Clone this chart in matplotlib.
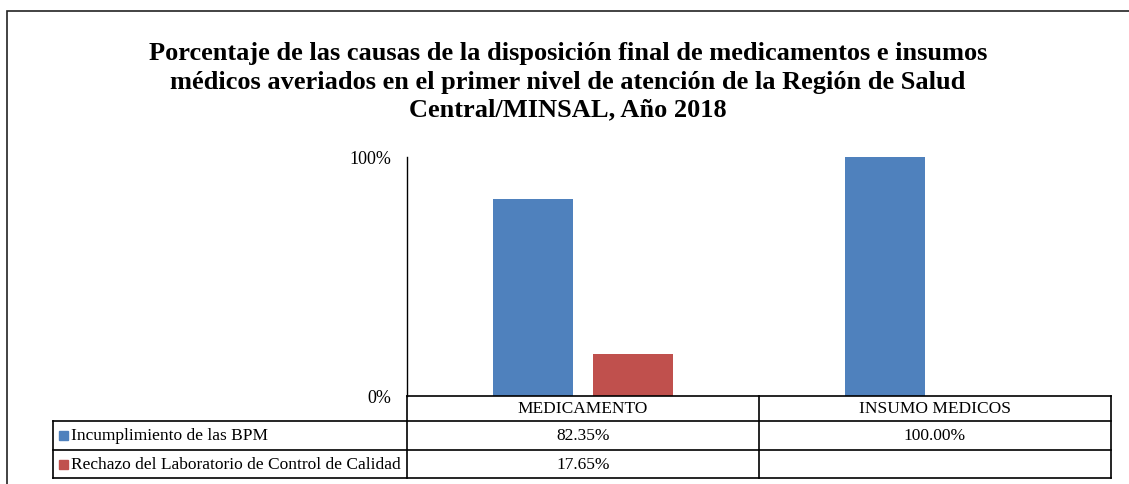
import matplotlib
matplotlib.use("Agg")
import matplotlib.pyplot as plt
import matplotlib.transforms as mtransforms
from matplotlib.patches import Rectangle
import numpy as np

categories = ["MEDICAMENTO", "INSUMO MEDICOS"]
series_names = ["Incumplimiento de las BPM",
                "Rechazo del Laboratorio de Control de Calidad"]
bpm = [82.35, 100.00]
rechazo = [17.65, None]
series_colors = ["#4F81BD", "#C0504D"]

title = ("Porcentaje de las causas de la disposición final de medicamentos e insumos\n"
         "médicos averiados en el primer nivel de atención de la Región de Salud\n"
         "Central/MINSAL, Año 2018")

plt.rcParams['font.family'] = ['Liberation Serif', 'DejaVu Serif']

W, H = 1129, 485
fig = plt.figure(figsize=(W / 100, H / 100), dpi=100)
fig.patch.set_facecolor("white")

# outer chart border (runs off the right and bottom edge like the source)
fig.patches.append(Rectangle((7 / W, -0.05), 1.2, 1 - 12 / H + 0.05,
                             transform=fig.transFigure, fill=False,
                             edgecolor="#222222", linewidth=1.2))

fig.text(0.503, 1 - 82 / H, title, ha="center", va="center",
         fontsize=19, fontweight="bold", linespacing=1.28)

ax = fig.add_axes([407 / W, 1 - 397 / H, (1111 - 407) / W, (397 - 158) / H])
x = np.arange(len(categories))
width = 0.225
off = 0.142
ax.bar(x - off, [v / 100 for v in bpm], width, color=series_colors[0])
r_vals = [v / 100 if v is not None else 0 for v in rechazo]
ax.bar(x + off, r_vals, width, color=series_colors[1])

ax.set_xlim(-0.5, len(categories) - 0.5)
ax.set_ylim(0, 1)
ax.set_yticks([0, 1])
ax.set_yticklabels(["0%", "100%"], fontsize=13)
ax.tick_params(axis="y", length=0, pad=11)
ax.set_xticks([])
for s in ["top", "right", "bottom"]:
    ax.spines[s].set_visible(False)
ax.spines["left"].set_linewidth(1.0)

# data table under the plot
trans = mtransforms.blended_transform_factory(ax.transData, fig.transFigure)
fx = lambda px: px / W
fy = lambda py: 1 - py / H
lw = 1.2
row_y = [397, 422, 451, 479]
x_left = -0.5 - (407 - 53) / 352
edges = [-0.5, 0.5, 1.5]

line_kw = dict(transform=trans, color="black", linewidth=lw, clip_on=False)
ax.plot([edges[0], edges[-1]], [fy(row_y[0])] * 2, **line_kw)
for yy in row_y[1:]:
    ax.plot([x_left, edges[-1]], [fy(yy)] * 2, **line_kw)
for e in edges:
    ax.plot([e, e], [fy(row_y[0]), fy(row_y[-1])], **line_kw)
ax.plot([x_left, x_left], [fy(row_y[1]), fy(row_y[-1])], **line_kw)

fs = 12.5
for i, c in enumerate(categories):
    ax.text(x[i], fy((row_y[0] + row_y[1]) / 2), c, transform=trans,
            ha="center", va="center", fontsize=fs)

rows = [bpm, rechazo]
for r, (name, vals, col) in enumerate(zip(series_names, rows, series_colors)):
    yc = fy((row_y[r + 1] + row_y[r + 2]) / 2)
    fig.patches.append(Rectangle((fx(59), yc - 4.5 / H), 9 / W, 9 / H,
                                 transform=fig.transFigure, color=col))
    fig.text(fx(71), yc, name, ha="left", va="center", fontsize=fs)
    for i, v in enumerate(vals):
        if v is not None:
            ax.text(x[i], yc, f"{v:.2f}%", transform=trans,
                    ha="center", va="center", fontsize=fs)

fig.savefig("out.png", dpi=100)
